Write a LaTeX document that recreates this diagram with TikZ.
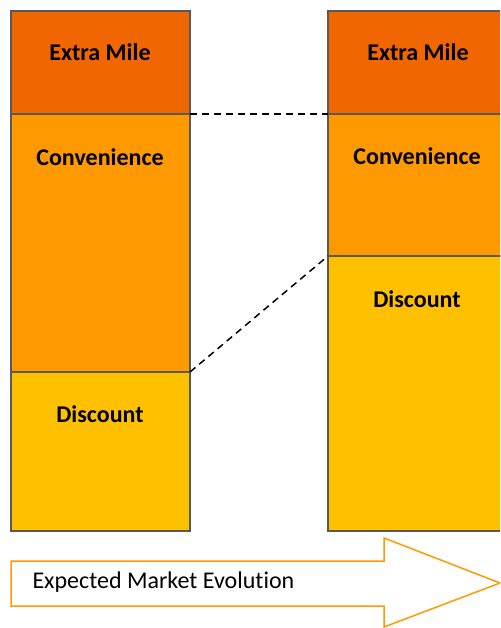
\documentclass[tikz,border=0pt]{standalone}
\usepackage{fontspec}
\setmainfont[Ligatures=CommonOff]{Carlito}
\definecolor{extraC}{HTML}{F06600}
\definecolor{convC}{HTML}{FF9900}
\definecolor{discC}{HTML}{FFC000}
\definecolor{edgeC}{HTML}{595959}
\definecolor{arrowC}{HTML}{FF9A00}
\begin{document}
\begin{tikzpicture}[x=1pt,y=-1pt,
  seg/.style={draw=edgeC,line width=2pt},
  lab/.style={font=\fontsize{24}{28}\selectfont\bfseries,anchor=center},
  link/.style={draw=black,dashed,line width=1.5pt,dash pattern=on 7pt off 5pt}]
\useasboundingbox (0,0) rectangle (500,628);
\begin{scope}
\clip (0,0) rectangle (500,628);
% left column
\draw[seg,fill=extraC] (11,11) rectangle (190,114);
\draw[seg,fill=convC] (11,114) rectangle (190,372);
\draw[seg,fill=discC] (11,372) rectangle (190,531);
% right column (runs past the page edge)
\draw[seg,fill=extraC] (328,11) rectangle (520,114);
\draw[seg,fill=convC] (328,114) rectangle (520,256);
\draw[seg,fill=discC] (328,256) rectangle (520,531);
\coordinate (l1) at (190,114);
\coordinate (r1) at (328,114);
\coordinate (l2) at (190,372);
\coordinate (r2) at (328,256);
\node[lab] (em1) at (100,52) {Extra Mile};
\node[lab] (cv1) at (100,157) {Convenience};
\node[lab] (ds1) at (100,414) {Discount};
\node[lab] (em2) at (418,52) {Extra Mile};
\node[lab] (cv2) at (417,156) {Convenience};
\node[lab] (ds2) at (417,299) {Discount};
\draw[link] (l1) -- (r1);
\draw[link] (l2) -- (r2);
% evolution arrow
\draw[draw=arrowC,line width=1.5pt,fill=white,line join=miter]
  (11,561) -- (384,561) -- (384,538) -- (500,583) -- (384,627) -- (384,606) -- (11,606) -- cycle;
\node[font=\fontsize{24}{28}\selectfont,anchor=west] (evo) at (29,582) {Expected Market Evolution};
\end{scope}
\end{tikzpicture}
\end{document}
